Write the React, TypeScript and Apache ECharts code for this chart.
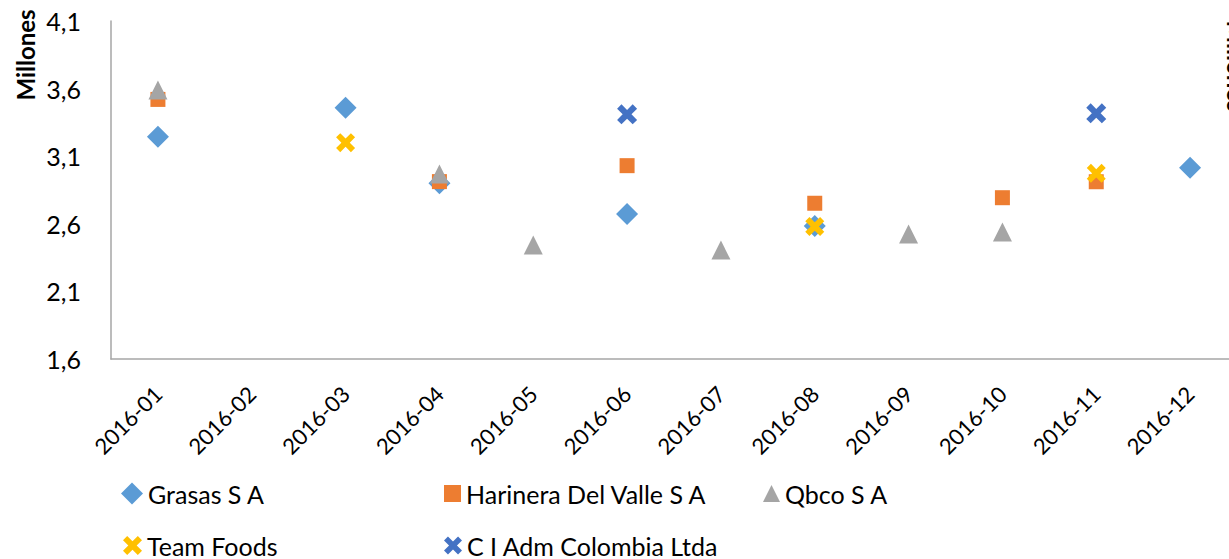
import React, { useEffect, useRef } from "react";
import * as echarts from "echarts";

const months = ["2016-01", "2016-02", "2016-03", "2016-04", "2016-05", "2016-06", "2016-07", "2016-08", "2016-09", "2016-10", "2016-11", "2016-12"];

const grasas = [3.244, null, 3.459, 2.9, null, 2.672, null, 2.584, null, null, null, 3.015];
const harinera = [3.52, null, null, 2.912, null, 3.03, null, 2.752, null, 2.793, 2.911, null];
const qbco = [3.59, null, null, 2.968, 2.443, null, 2.406, null, 2.525, 2.54, null, null];
const teamFoods = [null, null, 3.2, null, null, null, null, 2.58, null, null, 2.973, null];
const ciAdm = [null, null, null, null, null, 3.41, null, null, null, null, 3.417, null];

const yTicks = [1.6, 2.1, 2.6, 3.1, 3.6, 4.1];

const X_PATH = "path://M0,2.2 L2.2,0 L5,2.8 L7.8,0 L10,2.2 L7.2,5 L10,7.8 L7.8,10 L5,7.2 L2.2,10 L0,7.8 L2.8,5 Z";

const FONT = "Lato, 'Liberation Sans', sans-serif";

export default function App() {
  const ref = useRef<HTMLDivElement>(null);
  useEffect(() => {
    if (!ref.current) return;
    const chart = echarts.init(ref.current, undefined, { renderer: "svg" });
    const legendText = { fontFamily: FONT, fontSize: 25, color: "#000" };
    const mk = (name: string, data: (number | null)[], symbol: string, size: number, color: string) => ({
      name,
      type: "scatter",
      data,
      symbol,
      symbolSize: size,
      itemStyle: { color, opacity: 1 },
      emphasis: { disabled: true },
    });
    chart.setOption({
      animation: false,
      grid: { left: 111, top: 21, right: 3, bottom: 200 },
      xAxis: {
        type: "category",
        data: months,
        boundaryGap: true,
        axisLine: { show: true, lineStyle: { color: "#A6A6A6", width: 1.5 } },
        axisTick: { show: false },
        axisLabel: {
          interval: 0,
          rotate: 45,
          margin: 31,
          fontFamily: FONT,
          fontSize: 22,
          color: "#000",
        },
      },
      yAxis: {
        type: "value",
        min: 1.6,
        max: 4.1,
        interval: 0.1,
        axisLine: { show: true, lineStyle: { color: "#A6A6A6", width: 1.5 } },
        axisTick: { show: false },
        splitLine: { show: false },
        axisLabel: {
          margin: 30,
          fontFamily: FONT,
          fontSize: 25,
          color: "#000",
          formatter: (v: number) => {
            const hit = yTicks.find((t) => Math.abs(t - v) < 1e-6);
            return hit === undefined ? "" : hit.toFixed(1).replace(".", ",");
          },
        },
      },
      legend: [
        { data: ["Grasas S A"], left: 116, top: 476, itemWidth: 22, itemHeight: 22, textStyle: legendText },
        { data: ["Harinera Del Valle S A"], left: 439, top: 476, itemWidth: 17, itemHeight: 17, textStyle: legendText },
        { data: ["Qbco S A"], left: 758, top: 476, itemWidth: 17, itemHeight: 17, textStyle: legendText },
        { data: ["Team Foods"], left: 118, top: 528, itemWidth: 19, itemHeight: 19, textStyle: legendText },
        { data: ["C I Adm Colombia Ltda"], left: 439, top: 528, itemWidth: 18, itemHeight: 18, textStyle: legendText },
      ],
      graphic: [
        {
          type: "text",
          x: 25,
          y: 55,
          rotation: Math.PI / 2,
          style: { text: "Millones", font: `bold 24px ${FONT}`, fill: "#000", align: "center", verticalAlign: "middle" },
        },
        {
          type: "text",
          x: 1224,
          y: 66,
          rotation: -Math.PI / 2,
          style: { text: "Millones", font: `bold 24px ${FONT}`, fill: "#000", align: "center", verticalAlign: "bottom" },
        },
      ],
      series: [
        mk("Grasas S A", grasas, "diamond", 22, "#5B9BD5"),
        mk("Harinera Del Valle S A", harinera, "rect", 15, "#ED7D31"),
        mk("Qbco S A", qbco, "triangle", 19, "#A5A5A5"),
        mk("Team Foods", teamFoods, X_PATH, 19, "#FFC000"),
        mk("C I Adm Colombia Ltda", ciAdm, X_PATH, 20, "#4472C4"),
      ],
    });
    return () => chart.dispose();
  }, []);
  return <div ref={ref} style={{ position: "fixed", left: 0, top: 0, width: 1240, height: 559, background: "#fff" }} />;
}
